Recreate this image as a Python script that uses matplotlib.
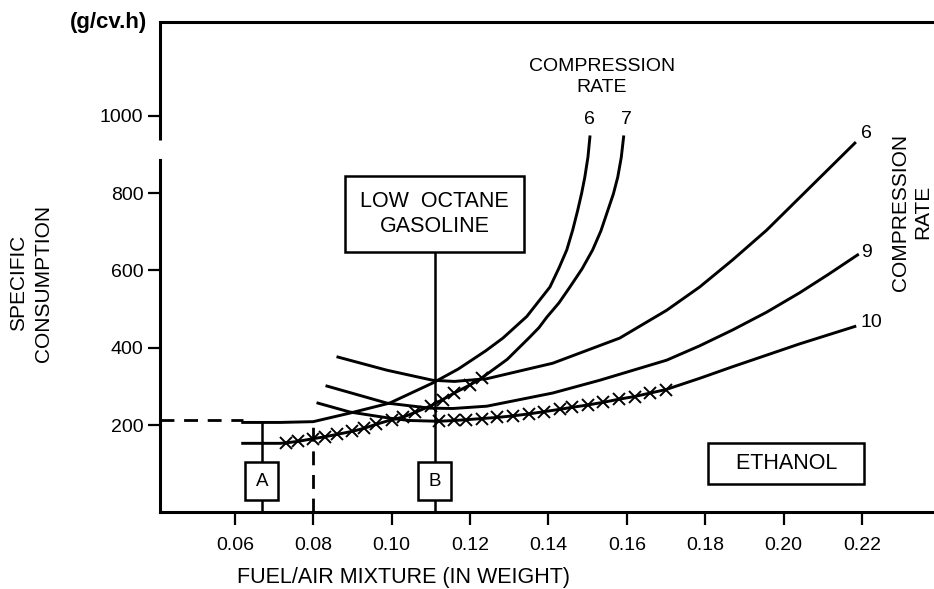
import matplotlib.pyplot as plt
from matplotlib.transforms import blended_transform_factory

plt.rcParams['font.family'] = ['Liberation Sans', 'DejaVu Sans']

# low octane gasoline, compression rate 6 and 7
gas6_x = [0.062, 0.0715, 0.080, 0.0893, 0.0995, 0.1105, 0.117, 0.124, 0.1284,
          0.1345, 0.1404, 0.1427, 0.1447, 0.1462, 0.1475, 0.1485, 0.1493, 0.1501,
          0.1506]
gas6_y = [207, 207, 209, 231, 257, 309, 345, 392, 425, 481, 557, 606, 653, 704,
          756, 800, 841, 893, 945]

gas7_x = [0.062, 0.0715, 0.073, 0.076, 0.080, 0.083, 0.086, 0.090, 0.093, 0.096,
          0.100, 0.103, 0.106, 0.110, 0.113, 0.116, 0.120, 0.123, 0.1295, 0.1353,
          0.1376, 0.1396, 0.1427, 0.1455, 0.1486, 0.1513, 0.1534, 0.1552, 0.1566,
          0.1577, 0.1586, 0.1592]
gas7_y = [153, 153, 154, 158, 165, 170, 176, 184, 192, 202, 214, 221, 233, 250,
          266, 283, 304, 322, 370, 428, 452, 479, 516, 557, 604, 653, 702, 756,
          798, 841, 892, 945]

# ethanol, compression rate 6, 9, 10
eth6_x = [0.0863, 0.0988, 0.1105, 0.116, 0.1243, 0.1411, 0.1582, 0.1702, 0.1786,
          0.187, 0.1957, 0.2041, 0.2113, 0.2182]
eth6_y = [376, 342, 316, 313, 320, 360, 425, 497, 557, 627, 704, 788, 860, 929]

eth9_x = [0.0835, 0.0988, 0.1097, 0.1156, 0.1243, 0.1411, 0.1531, 0.1702, 0.1786,
          0.187, 0.1957, 0.2041, 0.2115, 0.2189]
eth9_y = [301, 257, 244, 243, 249, 283, 316, 368, 405, 446, 492, 542, 590, 640]

eth10_x = [0.0812, 0.0893, 0.0995, 0.1046, 0.112, 0.116, 0.119, 0.123, 0.127,
           0.131, 0.135, 0.139, 0.143, 0.146, 0.150, 0.154, 0.158, 0.162, 0.166,
           0.170, 0.1786, 0.187, 0.1957, 0.2041, 0.2113, 0.2182]
eth10_y = [257, 234, 218, 212, 210, 212, 214, 217, 220, 224, 229, 235, 241, 246,
           252, 259, 267, 274, 283, 292, 321, 351, 381, 410, 433, 455]

x_ticks = [0.06, 0.08, 0.10, 0.12, 0.14, 0.16, 0.18, 0.20, 0.22]
y_ticks = [200, 400, 600, 800, 1000]

point_a = 0.0669
point_b = 0.111
a_level = 207
ref_level = 213
ref_x = 0.080

fig = plt.figure(figsize=(9.34, 5.89), dpi=100)
ax = fig.add_axes([160 / 934, 1 - 512 / 589, 774 / 934, 490 / 589])
ax.set_xlim(0.0409, 0.2384)
ax.set_ylim(-24.5, 1242)

lw = 2.1
ax.plot(gas6_x, gas6_y, color='black', lw=lw)
ax.plot(gas7_x, gas7_y, color='black', lw=lw, marker='x', markersize=8,
        markeredgewidth=1.4, markevery=slice(2, 18))
ax.plot(eth6_x, eth6_y, color='black', lw=lw)
ax.plot(eth9_x, eth9_y, color='black', lw=lw)
ax.plot(eth10_x, eth10_y, color='black', lw=lw, marker='x', markersize=8,
        markeredgewidth=1.4, markevery=slice(4, 20))

# reference lines
ax.plot([0.0409, gas6_x[0]], [ref_level, ref_level], color='black', lw=2,
        ls=(0, (5, 3.5)))
ax.plot([ref_x, ref_x], [-24.5, gas6_y[2]], color='black', lw=2, ls=(0, (5, 3.5)))
ax.plot([point_a, point_a], [-24.5, a_level], color='black', lw=1.8)
ax.plot([point_b, point_b], [-24.5, 746], color='black', lw=1.8)

box = dict(boxstyle='square,pad=0.55', fc='white', ec='black', lw=1.8)
ax.text(point_a, 55, 'A', ha='center', va='center', fontsize=13.5, bbox=box)
ax.text(point_b, 55, 'B', ha='center', va='center', fontsize=13.5, bbox=box)
ax.text(point_b, 746, 'LOW  OCTANE\nGASOLINE', ha='center', va='center',
        fontsize=15.5, linespacing=1.25,
        bbox=dict(boxstyle='square,pad=0.7', fc='white', ec='black', lw=1.8))
ax.text(0.2006, 101, '   ETHANOL   ', ha='center', va='center', fontsize=15.5,
        bbox=dict(boxstyle='square,pad=0.45', fc='white', ec='black', lw=1.8))

# compression rate labels
ax.text(0.1536, 1100, 'COMPRESSION\nRATE', ha='center', va='center',
        fontsize=14, linespacing=1.35)
ax.text(0.1506, 989, '6', ha='center', va='center', fontsize=14)
ax.text(0.160, 989, '7', ha='center', va='center', fontsize=14)
ax.text(0.2197, 955, '6', ha='left', va='center', fontsize=14)
ax.text(0.2197, 647, '9', ha='left', va='center', fontsize=14)
ax.text(0.2197, 466, '10', ha='left', va='center', fontsize=14)
ax.text(0.2327, 751, 'COMPRESSION\nRATE', ha='center', va='center',
        rotation=90, fontsize=15, linespacing=1.2, clip_on=False)

# axes frame with a break in the y axis
ax.spines['right'].set_visible(False)
for s in ['left', 'bottom', 'top']:
    ax.spines[s].set_linewidth(2.2)
ax.spines['left'].set_bounds(-24.5, 885)
trans = blended_transform_factory(ax.transAxes, ax.transData)
ax.plot([0, 0], [937, 1242], color='black', lw=2.2, transform=trans,
        clip_on=False, solid_capstyle='butt')

ax.set_xticks(x_ticks)
ax.set_xticklabels(['%.2f' % v for v in x_ticks])
ax.set_yticks(y_ticks)
ax.tick_params(axis='both', direction='out', length=9, width=1.6, labelsize=14)
ax.tick_params(axis='x', pad=9)
ax.tick_params(axis='y', pad=3)

ax.set_xlabel('FUEL/AIR MIXTURE (IN WEIGHT)', fontsize=15.5, va='center')
ax.xaxis.set_label_coords(0.315, -0.133)
ax.set_ylabel('SPECIFIC\nCONSUMPTION', fontsize=15, va='center', linespacing=1.4)
ax.yaxis.set_label_coords(-0.1667, 0.467)
ax.text(-0.017, 0.998, '(g/cv.h)', transform=ax.transAxes, ha='right',
        va='center', fontsize=16, fontweight='bold')

fig.savefig('out.png', dpi=100)
